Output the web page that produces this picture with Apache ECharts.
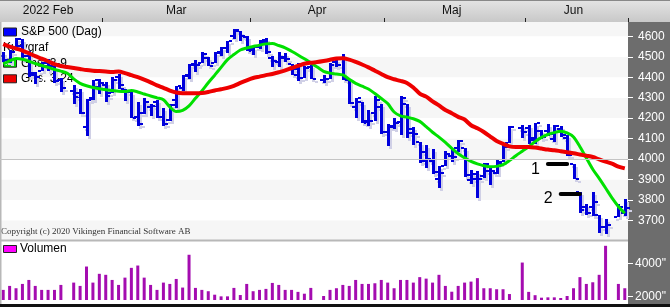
<!DOCTYPE html>
<html><head><meta charset="utf-8">
<script src="https://cdn.jsdelivr.net/npm/echarts@6/dist/echarts.min.js"></script>
<style>html,body{margin:0;padding:0;background:#fff}#c{width:670px;height:307px}</style>
</head><body><div id="c"></div>
<script>
const dates = ['2022-02-07','2022-02-08','2022-02-09','2022-02-10','2022-02-11',
'2022-02-14','2022-02-15','2022-02-16','2022-02-17','2022-02-18',
'2022-02-21','2022-02-22','2022-02-23','2022-02-24','2022-02-25',
'2022-02-28','2022-03-01','2022-03-02','2022-03-03','2022-03-04',
'2022-03-07','2022-03-08','2022-03-09','2022-03-10','2022-03-11',
'2022-03-14','2022-03-15','2022-03-16','2022-03-17','2022-03-18',
'2022-03-21','2022-03-22','2022-03-23','2022-03-24','2022-03-25',
'2022-03-28','2022-03-29','2022-03-30','2022-03-31','2022-04-01',
'2022-04-04','2022-04-05','2022-04-06','2022-04-07','2022-04-08',
'2022-04-11','2022-04-12','2022-04-13','2022-04-14','2022-04-15',
'2022-04-18','2022-04-19','2022-04-20','2022-04-21','2022-04-22',
'2022-04-25','2022-04-26','2022-04-27','2022-04-28','2022-04-29',
'2022-05-02','2022-05-03','2022-05-04','2022-05-05','2022-05-06',
'2022-05-09','2022-05-10','2022-05-11','2022-05-12','2022-05-13',
'2022-05-16','2022-05-17','2022-05-18','2022-05-19','2022-05-20',
'2022-05-23','2022-05-24','2022-05-25','2022-05-26','2022-05-27',
'2022-05-30','2022-05-31','2022-06-01','2022-06-02','2022-06-03',
'2022-06-06','2022-06-07','2022-06-08','2022-06-09','2022-06-10',
'2022-06-13','2022-06-14','2022-06-15','2022-06-16','2022-06-17',
'2022-06-20','2022-06-21','2022-06-22'];

const opens = [4506,4480,4547,4553,4506, 4413,4429,4456,4456,4386, null,4333,4325,4156,4298, 4354,4363,4323,4401,4342, 4327,4203,4223,4253,4280, 4203,4189,4288,4345,4407, 4462,4469,4493,4470,4523, 4541,4603,4624,4599,4540, 4548,4573,4494,4475,4494, 4463,4438,4394,4449,null, 4386,4391,4472,4489,4386, 4255,4278,4187,4223,4254, 4131,4160,4181,4270,4128, 4081,4035,3990,3904,3964, 4013,4052,4052,3899,3928, 3919,3943,3930,3985,4077, null,4151,4150,4095,4138, 4135,4097,4147,4102,3974, 3838,3764,3764,3728,3666, null,3715,3734];
const highs = [4522,4531,4590,4589,4526, 4426,4473,4490,4456,4395, null,4362,4342,4295,4385, 4389,4379,4402,4417,4342, 4327,4277,4299,4268,4291, 4248,4271,4358,4413,4465, 4482,4522,4501,4521,4546, 4576,4637,4628,4603,4549, 4584,4594,4504,4521,4520, 4464,4471,4454,4461,null, 4410,4471,4488,4513,4386, 4299,4278,4241,4309,4270, 4170,4200,4308,4270,4158, 4081,4069,4049,3965,4039, 4047,4091,4052,3946,3943, 3982,3956,3999,4075,4159, null,4168,4167,4178,4143, 4169,4165,4160,4119,3974, 3838,3778,3838,3728,3708, null,3780,3802];
const lows = [4472,4465,4547,4484,4401, 4365,4429,4430,4374,4327, null,4267,4222,4115,4287, 4315,4280,4323,4346,4285, 4200,4158,4223,4210,4201, 4162,4188,4252,4336,4391, 4424,4469,4456,4465,4501, 4518,4590,4581,4530,4508, 4539,4514,4450,4450,4475, 4408,4381,4393,4391,null, 4370,4391,4449,4385,4268, 4201,4175,4163,4189,4124, 4063,4147,4117,4106,4068, 3976,3958,3929,3859,3964, 3984,4034,3912,3877,3810, 3909,3875,3925,3985,4077, null,4105,4074,4074,4099, 4109,4080,4107,4017,3900, 3734,3722,3722,3640,3637, null,3715,3718];
const closes = [4484,4522,4587,4504,4419, 4402,4471,4475,4380,4349, null,4305,4226,4289,4385, 4374,4306,4387,4363,4329, 4201,4171,4278,4260,4204, 4173,4262,4358,4412,4463, 4461,4512,4456,4520,4543, 4576,4632,4602,4530,4546, 4583,4525,4481,4500,4488, 4413,4397,4447,4393,null, 4392,4462,4459,4394,4272, 4296,4175,4184,4288,4132, 4155,4175,4300,4147,4123, 3991,4001,3935,3930,4024, 4008,4089,3924,3901,3901, 3974,3941,3979,4058,4158, null,4132,4101,4177,4109, 4121,4161,4116,4018,3901, 3750,3735,3790,3667,3675, null,3765,3760];

const maShort = [4465,4480,4492,4488,4478, 4467,4457,4448,4438,4430, 4419,4392,4370,4358,4350, 4344,4339,4335,4331,4330, 4335,4328,4318,4308,4299, 4290,4255,4232,4238,4260, 4297,4333,4373,4410,4448, 4486,4511,4533,4543,4550, 4557,4563,4565,4555,4544, 4527,4509,4490,4470,4450, 4429,4420,4416,4411,4390, 4370,4356,4342,4320,4296, 4271,4230,4211,4205,4197, 4184,4158,4131,4107,4081, 4052,4026,4006,3988,3976, 3967,3962,3964,3972,3992, 4016,4038,4060,4085,4106, 4120,4129,4136,4128,4108, 4060,4005,3950,3905,3858, 3810,3768,3735];
const maLong = [4562,4550,4540,4530,4517, 4503,4491,4478,4464,4455, 4450,4445,4440,4435,4432, 4430,4428,4426,4428,4420, 4410,4400,4388,4375,4360, 4348,4335,4325,4322,4322, 4322,4323,4328,4335,4341, 4348,4358,4372,4385,4396, 4403,4410,4416,4424,4433, 4445,4455,4466,4471,4474, 4479,4485,4492,4493,4486, 4475,4462,4448,4432,4416, 4400,4390,4382,4372,4350, 4320,4305,4282,4262,4240, 4224,4206,4193,4165,4150, 4132,4110,4088,4074,4062, 4059,4059,4059,4056,4051, 4046,4043,4038,4033,4028, 4022,4016,4010,3998,3987, 3977,3963,3954];

const volume = [2410,2650,2510,2770,3010, 2650,2410,2410,2410,2710, null,2850,2650,3820,2850, 3380,3320,3010,2710,3150, 3740,3880,3150,2710,2410, 2850,2770,3070,2550,4530, 2530,2410,2330,2120,2020, 2020,2530,2100,2770,2330, 2410,2470,2830,2710,2410, 2410,2290,2180,2530,null, 2040,2410,2510,2710,2650, 3010,2770,2770,2810,3010, 2850,2510,3010,3010,2850, 3180,3090,2850,3320,2650, 2300,2650,2850,2910,3120, 2510,2510,2450,2450,2160, null,4060,2290,2090,1940, 1960,1960,1920,2040,2510, 3180,2770,2870,3320,5070, null,2770,2510];

const monthNames = {'02':'2022 Feb','03':'Mar','04':'Apr','05':'Maj','06':'Jun'};
const priceTicks = [3700,3800,3900,4000,4100,4200,4300,4400,4500,4600];
const volumeTicks = [2000,4000];
const gapLabels = ['1','2'];
const gapFrom = ['2022-06-06','2022-06-08'];
const gapTo = ['2022-06-09','2022-06-13'];
const gapLevel = [3975,3830];
const legendNames = ['S&P 500 (Dag)','Kurvgraf','Gns. 3-9','Gns. 3-24'];

const monthStart = new Set(), monthLabelIdx = {};
{
  const groups = {};
  dates.forEach((d,i)=>{const m=d.slice(5,7);(groups[m]=groups[m]||[]).push(i);});
  Object.keys(groups).forEach(m=>{
    const g=groups[m];
    if (g[0] !== 0) monthStart.add(g[0]);
    monthLabelIdx[Math.floor((g[0]+g[g.length-1])/2)] = monthNames[m];
  });
}

const ohlc = [];
dates.forEach((d,i)=>{ if (opens[i]!=null) ohlc.push([i,opens[i],highs[i],lows[i],closes[i]]); });

function renderOHLC(params, api){
  const x=api.value(0);
  const pH=api.coord([x,api.value(2)]), pL=api.coord([x,api.value(3)]);
  const pO=api.coord([x,api.value(1)]), pC=api.coord([x,api.value(4)]);
  const cx=Math.round(pH[0]);
  const mk=(dx,dy,col)=>({type:'group',children:[
    {type:'rect',shape:{x:cx-1+dx,y:Math.round(pH[1])+dy,width:3,height:Math.max(Math.round(pL[1]-pH[1]),2)},style:{fill:col}},
    {type:'rect',shape:{x:cx-4+dx,y:Math.round(pO[1])-1+dy,width:3,height:2},style:{fill:col}},
    {type:'rect',shape:{x:cx+2+dx,y:Math.round(pC[1])-1+dy,width:3,height:2},style:{fill:col}}
  ]});
  return {type:'group',children:[mk(2,3,'#d0d0e6'),mk(0,0,'#0000dc')]};
}

const FONT='"Liberation Sans", Arial, sans-serif';
const legendColors=['#0000ff',null,'#00e000','#ee0000'];
const graphics=[
  {type:'rect',shape:{x:0,y:0,width:670,height:22},style:{fill:{type:'linear',x:0,y:0,x2:0,y2:1,colorStops:[{offset:0,color:'#e4e4e4'},{offset:1,color:'#c8c8c8'}]}},z:-1},
  {type:'rect',shape:{x:0,y:0,width:670,height:1},style:{fill:'#888'},z:-1},
  {type:'rect',shape:{x:628,y:22,width:42,height:285},style:{fill:'#6d6d6d'},z:-1},
  {type:'rect',shape:{x:0,y:22,width:1.5,height:283},style:{fill:'#b8b8b8'},z:5},
  {type:'rect',shape:{x:0,y:239.5,width:628,height:2},style:{fill:'#b8b8b8'},z:5},
  {type:'rect',shape:{x:0,y:304,width:670,height:3},style:{fill:'#111'},z:5},
  {type:'text',x:1,y:232,style:{text:'Copyright (c) 2020 Vikingen Financial Software AB',font:'9px "Liberation Serif", serif',fill:'#333',verticalAlign:'middle'},z:1},
  {type:'rect',shape:{x:3.5,y:245.5,width:13,height:7},style:{fill:'#ff00ff',stroke:'#222',lineWidth:1},z:1},
  {type:'text',x:20,y:249,style:{text:'Volumen',font:'12px '+FONT,fill:'#000',verticalAlign:'middle'},z:1}
];
legendNames.forEach((n,k)=>{
  const y=32+k*15.6;
  if (legendColors[k]) graphics.push({type:'rect',shape:{x:3.5,y:y-4,width:13,height:8},style:{fill:legendColors[k],stroke:'#222',lineWidth:1},z:1});
  graphics.push({type:'text',x:legendColors[k]?21:3,y:y,style:{text:n,font:'12px '+FONT,fill:'#000',verticalAlign:'middle'},z:1});
});

const chart=echarts.init(document.getElementById('c'));
chart.setOption({
  animation:false,
  backgroundColor:'#fff',
  graphic:graphics,
  grid:[{left:0,right:42,top:22,height:218.8,show:false},{left:0,right:42,top:242,bottom:7,show:false}],
  xAxis:[
    {type:'category',gridIndex:0,data:dates,position:'top',boundaryGap:true,
     axisLine:{show:false},
     axisTick:{show:true,length:4,lineStyle:{color:'#222'},interval:(i)=>monthStart.has(i)},
     axisLabel:{interval:(i)=>monthLabelIdx[i]!==undefined,formatter:(v,i)=>monthLabelIdx[i]||'',margin:5,fontSize:12,fontFamily:FONT,color:'#111'},
     splitLine:{show:false}},
    {type:'category',gridIndex:1,data:dates,show:false,boundaryGap:true}
  ],
  yAxis:[
    {type:'value',gridIndex:0,min:3600,max:4670,interval:100,position:'right',
     axisLine:{show:false},axisTick:{show:false},axisLabel:{show:false},splitLine:{show:false},
     splitArea:{show:true,areaStyle:{color:['#f6f6f6','#ffffff']}}},
    {type:'value',gridIndex:0,min:3600,max:4670,position:'right',
     axisLine:{show:false},splitLine:{show:false},
     axisTick:{show:true,customValues:priceTicks,length:5,lineStyle:{color:'#fff'}},
     axisLabel:{customValues:priceTicks,margin:10,color:'#fff',fontSize:12,fontFamily:FONT,formatter:(v)=>String(v)}},
    {type:'value',gridIndex:1,min:1800,max:5300,position:'right',
     axisLine:{show:false},splitLine:{show:false},
     axisTick:{show:true,customValues:volumeTicks,length:5,lineStyle:{color:'#fff'}},
     axisLabel:{customValues:volumeTicks,margin:7,color:'#fff',fontSize:12,fontFamily:FONT,formatter:(v)=>String(v)+'"'}}
  ],
  series:[
    {type:'line',xAxisIndex:0,yAxisIndex:0,data:[],z:1,silent:true,
     markLine:{silent:true,symbol:'none',label:{show:false},lineStyle:{color:'#c4c4c4',width:1,type:'solid'},data:[{yAxis:4000}]}},
    {type:'custom',name:'S&P 500 (Dag)',xAxisIndex:0,yAxisIndex:0,data:ohlc,renderItem:renderOHLC,encode:{x:0,y:[1,2,3,4]},z:2},
    {type:'line',name:'Gns. 3-9',xAxisIndex:0,yAxisIndex:0,data:maShort,smooth:0.3,showSymbol:false,lineStyle:{color:'#00e000',width:3},z:3},
    {type:'line',name:'Gns. 3-24',xAxisIndex:0,yAxisIndex:0,data:maLong,smooth:0.3,showSymbol:false,lineStyle:{color:'#ee0000',width:4},z:3},
    {type:'line',xAxisIndex:0,yAxisIndex:0,data:[],z:4,silent:true,
     markLine:{silent:true,symbol:'none',
       lineStyle:{color:'#000',width:4,type:'solid',cap:'round'},
       label:{show:true,position:'start',distance:8,fontSize:16,fontFamily:FONT,color:'#000',offset:[0,5],formatter:(p)=>p.data.name||p.name},
       data:gapLabels.map((t,k)=>[{name:t,coord:[gapFrom[k],gapLevel[k]]},{coord:[gapTo[k],gapLevel[k]]}])}},
    {type:'bar',name:'Volumen',xAxisIndex:1,yAxisIndex:2,data:volume,barWidth:3,itemStyle:{color:'#a40cb0'},z:2}
  ]
});
</script></body></html>
